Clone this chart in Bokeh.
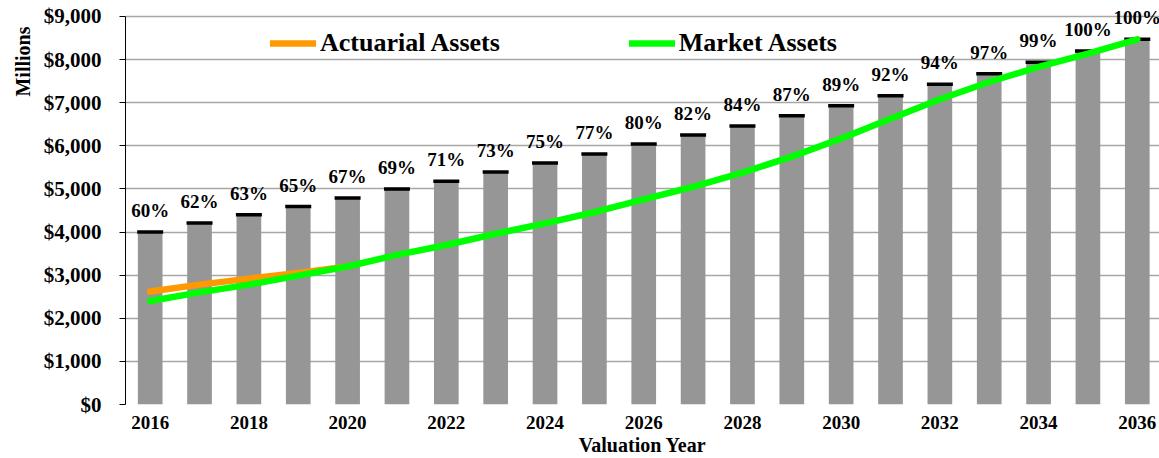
from bokeh.plotting import figure
from bokeh.models import (Range1d, FixedTicker, NumeralTickFormatter, Legend, LegendItem, Title,
                          ColumnDataSource, LabelSet)
from bokeh.embed import file_html
from bokeh.resources import INLINE

years = list(range(2016, 2037))
liabilities = [4000, 4210, 4400, 4590, 4790, 5000, 5180, 5390, 5600, 5810, 6040,
               6250, 6460, 6700, 6930, 7160, 7430, 7670, 7940, 8200, 8470]
funded_labels = ["60%", "62%", "63%", "65%", "67%", "69%", "71%", "73%", "75%", "77%", "80%",
                 "82%", "84%", "87%", "89%", "92%", "94%", "97%", "99%", "100%", "100%"]
market_assets = [2400, 2600, 2780, 2990, 3200, 3470, 3700, 3960, 4200, 4460, 4760,
                 5050, 5380, 5750, 6170, 6630, 7080, 7480, 7830, 8140, 8470]
actuarial_years = [2016, 2017, 2018, 2019, 2020]
actuarial_assets = [2620, 2780, 2920, 3050, 3200]
y_ticks = [0, 1000, 2000, 3000, 4000, 5000, 6000, 7000, 8000, 9000]
x_ticks = [2016, 2018, 2020, 2022, 2024, 2026, 2028, 2030, 2032, 2034, 2036]

FONT = "Liberation Serif"

p = figure(width=1159, height=458, output_backend="svg", toolbar_location=None,
           x_range=Range1d(2015.5, 2036.45), y_range=Range1d(0, 9185),
           min_border_left=125, min_border_right=0, min_border_top=8, min_border_bottom=53)
p.outline_line_color = None
p.background_fill_color = "white"

src = ColumnDataSource(dict(x=years, top=liabilities, lab=funded_labels, mkt=market_assets))
p.vbar(x="x", top="top", width=0.5, bottom=0, source=src, fill_color="#969696", line_color=None)
p.scatter(x="x", y="top", marker="dash", size=26, line_color="black", line_width=3.5, source=src)

labels = LabelSet(x="x", y="top", text="lab", source=src, text_align="center",
                  text_baseline="alphabetic", y_offset=15, text_font=FONT,
                  text_font_style="bold", text_font_size="19px", text_color="black")
p.add_layout(labels)

r_act = p.line(actuarial_years, actuarial_assets, line_color="#FF9900", line_width=6.5, line_cap="round")
r_mkt = p.line(x="x", y="mkt", source=src, line_color="#00FF00", line_width=6.5, line_cap="round")

# axes
p.xgrid.visible = False
p.ygrid.grid_line_color = "#a6a6a6"
p.ygrid.grid_line_width = 1.5
p.yaxis.ticker = FixedTicker(ticks=y_ticks)
p.yaxis.formatter = NumeralTickFormatter(format="$0,0")
p.yaxis.bounds = (0, 9000)
p.yaxis.axis_line_color = "black"
p.yaxis.major_tick_out = 6
p.yaxis.major_tick_in = 0
p.yaxis.minor_tick_line_color = None
p.yaxis.major_label_standoff = 18
p.yaxis.major_label_text_font = FONT
p.yaxis.major_label_text_font_style = "bold"
p.yaxis.major_label_text_font_size = "21px"
p.yaxis.major_label_text_color = "black"

p.xaxis.ticker = FixedTicker(ticks=x_ticks)
p.xaxis.axis_line_color = None
p.xaxis.major_tick_line_color = None
p.xaxis.minor_tick_line_color = None
p.xaxis.major_label_standoff = 5
p.xaxis.major_label_text_font = FONT
p.xaxis.major_label_text_font_style = "bold"
p.xaxis.major_label_text_font_size = "19px"
p.xaxis.major_label_text_color = "black"
p.xaxis.axis_label = "Valuation Year"
p.xaxis.axis_label_standoff = 2
p.xaxis.axis_label_text_font = FONT
p.xaxis.axis_label_text_font_style = "bold"
p.xaxis.axis_label_text_font_size = "20px"
p.xaxis.axis_label_text_color = "black"

ytitle = Title(text="Millions", align="right", text_font=FONT, text_font_style="bold",
               text_font_size="20px", text_color="black", standoff=14, offset=18)
p.add_layout(ytitle, "left")

legend = Legend(items=[LegendItem(label="Actuarial Assets", renderers=[r_act]),
                       LegendItem(label="Market Assets", renderers=[r_mkt])],
                orientation="horizontal", location=(145, 346),
                glyph_width=46, glyph_height=20, label_standoff=4, spacing=129,
                padding=0, margin=0, border_line_color=None, background_fill_alpha=0,
                label_text_font=FONT, label_text_font_style="bold", label_text_font_size="26px",
                label_text_color="black")
p.add_layout(legend)

open("out.html", "w").write(file_html(p, INLINE))
